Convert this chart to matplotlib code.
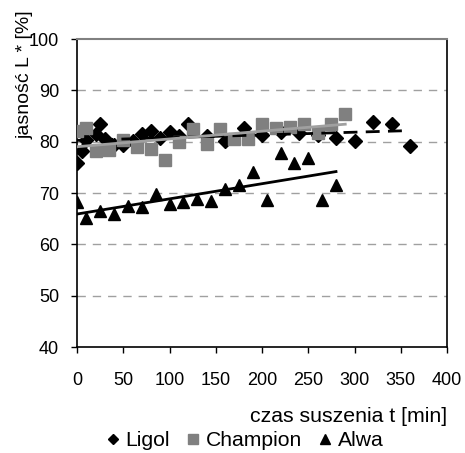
import numpy as np
import matplotlib
matplotlib.use("Agg")
from matplotlib import pyplot as plt
from matplotlib.lines import Line2D

plt.rcParams['font.family'] = ['Liberation Sans', 'DejaVu Sans']

ligol_t = [0, 5, 10, 20, 25, 30, 40, 50, 60, 70, 80, 90, 100, 110, 120, 140, 160,
           180, 200, 220, 240, 260, 280, 300, 320, 340, 360]
ligol_L = [75.9, 78.2, 80.4, 81.4, 83.4, 80.5, 79.3, 79.3, 80.2, 81.5, 82.1, 80.8, 81.9,
           81.1, 83.5, 81.2, 80.2, 82.6, 81.3, 81.9, 81.6, 81.3, 80.7, 80.2, 83.9, 83.4, 79.2]

champion_t = [0, 10, 20, 35, 50, 65, 80, 95, 110, 125, 140, 155, 170, 185, 200, 215,
              230, 245, 260, 275, 290]
champion_L = [82.1, 82.7, 78.2, 78.4, 80.4, 78.9, 78.6, 76.4, 79.9, 82.4, 79.5, 82.5,
              80.6, 80.5, 83.4, 82.7, 82.8, 83.5, 81.7, 83.4, 85.4]

alwa_t = [0, 10, 25, 40, 55, 70, 85, 100, 115, 130, 145, 160, 175, 190, 205, 220,
          235, 250, 265, 280]
alwa_L = [68.3, 65.2, 66.5, 65.9, 67.5, 67.2, 69.9, 67.8, 68.2, 68.8, 68.5, 70.7,
          71.6, 74.1, 68.6, 77.7, 75.9, 76.9, 68.6, 71.5]

x_ticks = [0, 50, 100, 150, 200, 250, 300, 350, 400]
y_ticks = [40, 50, 60, 70, 80, 90, 100]

W, H = 465, 453
fig = plt.figure(figsize=(W / 100, H / 100), dpi=100)
ax = fig.add_axes([77 / W, 1 - 347 / H, 370 / W, 308 / H])


def trend(t, L):
    # liniowa linia trendu jak w Excelu
    a, b = np.polyfit(t, L, 1)
    tt = np.array([min(t), max(t)])
    return tt, a * tt + b


ax.plot(ligol_t, ligol_L, 'D', color='black', ms=7.5, zorder=3)
ax.plot(champion_t, champion_L, 's', color='#808080', ms=8, zorder=3)
ax.plot(alwa_t, alwa_L, '^', color='black', ms=9, zorder=3)

tt, yy = trend(ligol_t, ligol_L)
ax.plot(tt, yy, color='black', lw=2, ls=(0, (5, 3)), zorder=4)
tt, yy = trend(champion_t, champion_L)
ax.plot(tt, yy, color='#a0a0a0', lw=2, zorder=4)
tt, yy = trend(alwa_t, alwa_L)
ax.plot(tt, yy, color='black', lw=2, zorder=4)

ax.set_xlim(0, 400)
ax.set_ylim(40, 100)
ax.set_xticks(x_ticks)
ax.set_yticks(y_ticks)
ax.tick_params(labelsize=13, direction='out', length=4, width=1)
ax.tick_params(axis='x', pad=14)
ax.tick_params(axis='y', pad=9)
for y in y_ticks[1:-1]:
    ax.axhline(y, color='#a0a0a0', lw=1, ls=(0, (6, 5)), zorder=1)
for s in ['left', 'bottom', 'right']:
    ax.spines[s].set_linewidth(1.2)
ax.spines['top'].set_color('#808080')
ax.spines['top'].set_linewidth(1.5)

fig.text(447 / W, 1 - 416 / H, 'czas suszenia t [min]', ha='right', va='center', fontsize=15.3)
fig.text(25 / W, 1 - 75 / H, 'jasność L * [%]', ha='center', va='center', rotation=90, fontsize=14)

handles = [Line2D([], [], marker='D', color='black', ls='none', ms=5.5),
           Line2D([], [], marker='s', color='#808080', ls='none', ms=6.5),
           Line2D([], [], marker='^', color='black', ls='none', ms=7.5)]
fig.legend(handles, ['Ligol', 'Champion', 'Alwa'], loc='center', ncol=3, frameon=False,
           bbox_to_anchor=(245 / W, 1 - 441 / H), fontsize=15.2, handlelength=0.6,
           handletextpad=0.3, columnspacing=0.8, borderpad=0)

fig.savefig('out.png', dpi=100)
